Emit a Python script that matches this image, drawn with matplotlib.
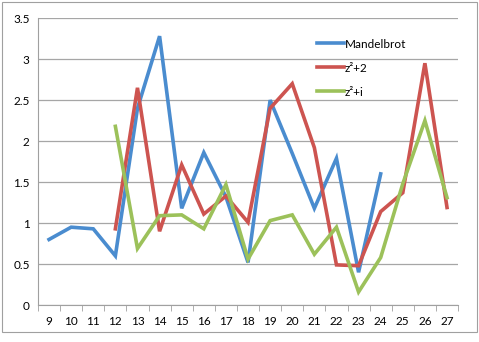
import matplotlib
matplotlib.use("Agg")
import matplotlib.pyplot as plt
from matplotlib.patches import Rectangle
import numpy as np

plt.rcParams['font.family'] = ['Lato', 'DejaVu Sans']

categories = [str(n) for n in range(9, 28)]
mandelbrot = [0.80, 0.95, 0.93, 0.60, 2.40, 3.28, 1.18, 1.86, 1.32, 0.52,
              2.50, 1.85, 1.18, 1.79, 0.40, 1.60, None, None, None]
z2_plus_2 = [None, None, None, 0.93, 2.65, 0.90, 1.71, 1.11, 1.33, 1.01,
             2.40, 2.70, 1.92, 0.49, 0.48, 1.14, 1.37, 2.95, 1.19]
z2_plus_i = [None, None, None, 2.18, 0.69, 1.09, 1.10, 0.93, 1.47, 0.56,
             1.03, 1.10, 0.62, 0.95, 0.16, 0.58, 1.48, 2.25, 1.31]

series = [("Mandelbrot", mandelbrot, "#4A8CCF"),
          ("z²+2", z2_plus_2, "#CD5450"),
          ("z²+i", z2_plus_i, "#9CC15A")]

fig = plt.figure(figsize=(4.79, 3.42), dpi=100)
ax = fig.add_axes([0.0793, 0.108, 0.877, 0.839])

x = np.arange(len(categories))
for name, vals, col in series:
    y = np.array([np.nan if v is None else v for v in vals])
    ax.plot(x, y, color=col, lw=2.6, label=name, solid_joinstyle='miter')

ax.set_xlim(-0.5, len(categories) - 0.5)
ax.set_ylim(0, 3.5)
ax.set_yticks(np.arange(0, 3.51, 0.5))
ax.set_yticklabels(["0", "0.5", "1", "1.5", "2", "2.5", "3", "3.5"])
ax.set_xticks(x)
ax.set_xticklabels(categories)
ax.set_xticks(np.arange(-0.5, len(categories), 1), minor=True)
ax.tick_params(axis='x', which='major', length=0, pad=8, labelsize=8.5)
ax.tick_params(axis='x', which='minor', length=4, color='#A0A0A0')
ax.tick_params(axis='y', length=0, pad=6, labelsize=8.5)
ax.grid(axis='y', color='#A6A6A6', lw=0.9)
ax.set_axisbelow(True)
for s in ['top', 'right']:
    ax.spines[s].set_visible(False)
for s in ['left', 'bottom']:
    ax.spines[s].set_color('#A0A0A0')

fig.legend(loc='upper left', bbox_to_anchor=(306/479, 1 - 28/342), frameon=False,
           fontsize=8.5, handlelength=2.3, handletextpad=0.1, labelspacing=1.1)

fig.patches.append(Rectangle((0.004, 0.03), 0.992, 0.964, transform=fig.transFigure,
                             fill=False, edgecolor='#A0A0A0', lw=0.8))

fig.savefig("out.png", dpi=100)
